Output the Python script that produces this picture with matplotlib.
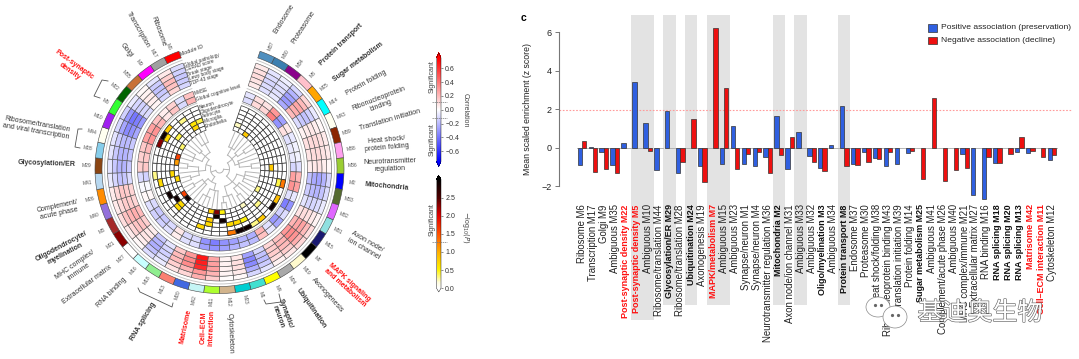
import numpy as np
import matplotlib
matplotlib.use('Agg')
import matplotlib.pyplot as plt
from matplotlib.colors import LinearSegmentedColormap, Normalize
from matplotlib.patches import Ellipse, Rectangle
from matplotlib.colorbar import ColorbarBase
import matplotlib.patheffects as pe

plt.rcParams['font.family'] = ['Liberation Sans', 'Noto Sans CJK SC', 'DejaVu Sans']

W, H = 1079, 359
# ---------- circular panel data (clockwise from the gap) ----------
modules = ['M37','M30','M34','M8','M25','M14','M43','M39','M38','M36','M2','M33','M32','M31','M15','M7','M19','M24','M4','M1','M23','M12',
           'M11','M42','M20','M13','M18','M16','M27','M21','M3','M40','M26','M41','M29','M28','M44','M10','M5','M22','M35','M9','M17','M6']
module_colors = ['#4f8fbf','#3b7fb0','#8b008b','#ffc0cb','#ffa500','#00ffff','#fffff0','#8b2500','#ffa0ee','#9acd32','#0000ff','#556b2f','#e066ff','#8fe0e0','#191970','#000000','#fffacd','#a9a9a9','#ffff00','#40e0d0','#00ced1','#d2b48c',
                 '#adff2f','#c5f5f5','#4169e1','#fa8072','#90ee90','#c8ffff','#ffffff','#8b0000','#a52a2a','#9370db','#ff8c00','#b8d8f0','#8b4513','#87ceeb','#fffff0','#a020f0','#33ff33','#006400','#c87137','#ff00ff','#a0a0a0','#ff0000']
trait_rows = [
 [.06,.09,.10,.08,.06],[-.08,-.10,-.12,-.10,-.09],[-.05,-.08,-.10,-.09,-.07],[-.12,-.22,-.28,-.30,-.25],[.12,.20,.26,.24,.20],
 [-.06,-.14,-.18,-.16,-.10],[.02,.05,.07,.06,.04],[.06,.09,.11,.11,.09],[.06,.08,.11,.10,.08],[.02,.05,.08,.07,.05],
 [-.12,-.22,-.27,-.25,-.18],[-.10,-.18,-.22,-.20,-.15],[-.06,-.10,-.12,-.12,-.08],[.03,.06,.09,.10,.08],[.10,.20,.27,.26,.22],
 [.12,.24,.32,.34,.30],[.07,.15,.20,.22,.18],[.04,.10,.15,.15,.12],[-.08,-.15,-.20,-.18,-.12],[-.12,-.24,-.34,-.36,-.28],
 [.02,.06,.09,.09,.07],[.01,.03,.04,.04,.03],[.15,.22,.28,.28,.26],[.24,.30,.62,.66,.68],[.12,.22,.34,.34,.30],
 [.08,.14,.20,.20,.16],[-.06,-.10,-.14,-.12,-.08],[-.10,-.18,-.24,-.22,-.16],[.02,.05,.08,.07,.05],[.06,.12,.17,.18,.14],
 [.10,.18,.22,.24,.20],[.06,.11,.15,.15,.12],[.06,.12,.16,.15,.12],[-.06,-.12,-.18,-.16,-.10],[-.08,-.16,-.22,-.22,-.16],
 [-.08,-.16,-.22,-.22,-.18],[-.08,-.15,-.20,-.20,-.16],[-.12,-.26,-.34,-.32,-.26],[-.14,-.30,-.40,-.38,-.30],[-.06,-.12,-.14,-.12,-.10],
 [.02,.04,.06,.05,.03],[-.08,-.15,-.18,-.16,-.12],[.06,.14,.20,.18,.12],[-.10,-.14,-.16,-.15,-.12]]
cognition_rows = [
 [-.08,-.10],[.09,.11],[.08,.12],[.30,.38],[-.28,-.32],[.06,.09],[-.07,-.09],[-.04,-.06],[-.04,-.06],[-.09,-.12],
 [.22,.28],[.28,.32],[-.07,-.09],[-.32,-.38],[-.10,-.14],[-.26,-.30],[-.07,-.09],[.18,.22],[-.20,-.24],[-.18,-.22],
 [-.22,-.28],[-.28,-.32],[-.32,-.38],[-.28,-.32],[-.09,-.11],[-.09,-.11],[.05,.07],[-.09,-.11],[-.14,-.16],[-.14,-.16],
 [-.09,-.11],[.02,.02],[-.02,-.02],[-.11,-.13],[.14,.16],[.14,.16],[.16,.20],[.28,.32],[.28,.32],[.18,.22],[.05,.07],[.13,.17],[-.09,-.11],[.18,.22]]
# (module index, row 0=neuron ... 5=endothelia, -log10 P)
celltype_hits = [(39,0,.8),(38,0,2.9),(37,0,2.3),(38,1,.7),(39,3,.4),(38,5,.35),(36,5,1.6),(35,5,1.1),(41,1,.3),(42,3,.6),(43,3,.4),(42,4,.7),
                 (0,4,.2),(2,5,.8),(9,3,.8),(11,0,1.3),(11,1,.4),(13,5,.3),(13,0,.9),(14,0,2.9),(15,3,.3),(17,5,.2),(16,0,.8),(17,0,.3),
                 (18,0,2.9),(19,0,2.9),(20,0,1.3),(20,2,.7),(19,2,.7),(18,2,.5),(21,3,2.9),(21,5,.5),(22,4,2.9),(22,5,2.3),(23,5,.8),(23,3,.8),(23,2,.7),
                 (24,1,.7),(28,2,.7),(30,2,2.9),(29,3,2.9),(29,5,1.6),(28,5,2.9),(28,3,.7),(32,1,.7),(33,4,.7),(32,5,.7),(33,0,.3)]
dendro = (4,[(10,[(16,[(24,[0,1,2]),(22,[3,(30,[4,5])]),(20,[6,7,(32,[8,9])])]),(18,[(26,[10,11,12,13]),(24,[14,15,(32,[16,17])]),(28,[18,19,(34,[20,21])])])]),
             (9,[(15,[(22,[22,23,(30,[24,25,26])]),(20,[27,28,(30,[29,30])])]),(14,[(21,[(30,[31,32]),33,(32,[34,35])]),(19,[(28,[36,37,38]),(25,[39,40]),(29,[41,42,43])])])])])
track_names = ['Global pathology','CERAD score','Braak stage','Lewy body stage','TDP-43 stage']
cog_names = ['MMSE','Global cognitive level']
cell_names = ['Neuron','Oligodendrocyte','Astrocyte','Microglia','Endothelia']

# ---------- bar panel data ----------
bar_labels = ['Ribosome M6','Transcription M17','Golgi M9','Ambiguous M35','Post-synaptic density M22','Post-synaptic density M5','Ambiguous M10','Ribosome/translation M44','Glycosylation/ER M29','Ribosome/translation M28','Ubiquitination M24','Axonogenesis M19','MAPK/metabolism M7','Ambiguous M15','Ambiguous M23','Synapse/neuron M1','Synapse/neuron M4','Neurotransmitter regulation M36','Mitochondria M2','Axon node/ion channel M31','Ambiguous M33','Ambiguous M32','Oligo/myelination M3','Ambiguous M34','Protein transport M8','Endosome M37','Proteasome M30','Heat shock/folding M38','Ribonucleoprotein binding M43','Translation initiation M39','Protein folding M14','Sugar metabolism M25','Ambiguous M41','Complement/acute phase M26','Ambiguous M40','MHC complex/immune M21','Extracellular matrix M27','RNA binding M16','RNA splicing M18','RNA splicing M20','RNA splicing M13','Matrisome M42','Cell–ECM interaction M11','Cytoskeleton M12']
positive = [-.9,.02,-.2,-.92,.27,3.4,1.27,-1.15,1.92,-1.3,0,-.95,0,-.87,1.15,-.87,-.97,-.48,1.63,-1.1,.8,-.43,-1.07,.12,2.17,-.83,-.23,-.55,-.95,-.87,-.3,0,0,0,0,-.33,-2.47,-2.67,-.8,0,-.2,-.25,0,-.62]
negative = [.33,-1.25,-1.1,-1.32,0,0,-.17,0,0,-.73,1.47,-1.8,6.2,3.12,-1.12,-.32,-.22,-1.32,-.4,.58,0,-.72,-1.22,0,-.95,-.92,-.72,-.57,-.22,0,-.17,-1.6,2.57,-1.73,-1.15,-1.08,0,-.47,-.78,-.33,.55,-.17,-.5,-.37]
red_bold = {4,5,12,41,42}
black_bold = {8,10,18,22,24,31,38,39,40}
shaded_groups = [[5,6],[8],[10],[12,13],[18],[20],[24]]
long_shade = {5,6}

fig = plt.figure(figsize=(W/100, H/100), dpi=100)
fig.patch.set_facecolor('white')
def px_axes(x0, y0, x1, y1, **kw):
    return fig.add_axes([x0/W, 1-y1/H, (x1-x0)/W, (y1-y0)/H], **kw)

# ---------- circular heatmap ----------
cx, cy, rmax = 219.5, 169, 126
pol = px_axes(cx-rmax, cy-rmax, cx+rmax, cy+rmax, projection='polar')
pol.set_theta_zero_location('N'); pol.set_theta_direction(-1)
pol.set_rlim(0, rmax); pol.axis('off')
gap = 19.0; step = (360-2*gap)/len(modules)
th = lambda i: np.radians(gap + step*(i+.5))
wd = np.radians(step)
corr_cmap = LinearSegmentedColormap.from_list('c', ['#0000ff','#ffffff','#ff0000'])
corr_norm = Normalize(-.75, .75)
p_cmap = LinearSegmentedColormap.from_list('p', [(0,'#ffffff'),(.05,'#fffde0'),(.17,'#fff200'),(.33,'#ffb000'),(.5,'#ff5000'),(.67,'#e00000'),(.83,'#500000'),(1,'#000000')])
p_norm = Normalize(0, 3)

pol.bar([th(i) for i in range(44)], [7]*44, width=wd, bottom=117.5, color=module_colors, edgecolor='#444444', linewidth=.4)
r1_out, r1_h = 112, 4.8
r2_out, r2_h = 82, 5.5
r3_out, r3_h = 67, 4.33
for i in range(44):
    for k, v in enumerate(trait_rows[i]):
        pol.bar(th(i), r1_h, width=wd, bottom=r1_out-(k+1)*r1_h, color=corr_cmap(corr_norm(v)), edgecolor='#555555', linewidth=.42)
    for k, v in enumerate(cognition_rows[i]):
        pol.bar(th(i), r2_h, width=wd, bottom=r2_out-(k+1)*r2_h, color=corr_cmap(corr_norm(v)), edgecolor='#555555', linewidth=.42)
    for k in range(6):
        pol.bar(th(i), r3_h, width=wd, bottom=r3_out-(k+1)*r3_h, color='white', edgecolor='#333333', linewidth=.5)
for i, k, v in celltype_hits:
    pol.bar(th(i), r3_h, width=wd, bottom=r3_out-(k+1)*r3_h, color=p_cmap(p_norm(v)), edgecolor='#333333', linewidth=.5, zorder=3)
arc_t = np.radians(np.linspace(gap, 360-gap, 200))
for r in (115, 85, 69.5):
    pol.plot(arc_t, [r]*200, color='#c8c8c8', lw=.7)

def draw(node):
    if isinstance(node, int):
        return th(node), 41.0
    r, kids = node
    pos = [draw(k) for k in kids]
    ts = [p[0] for p in pos]
    arc = np.linspace(min(ts), max(ts), 30)
    pol.plot(arc, [r]*30, color='#b5b5b5', lw=.7)
    for t, rc in pos:
        pol.plot([t, t], [r, rc], color='#b5b5b5', lw=.7)
    return (min(ts)+max(ts))/2, r
draw(dendro)

# ---------- overlay for annotation text ----------
ov = fig.add_axes([0, 0, 1, 1], facecolor='none', zorder=5)
ov.set_xlim(0, W); ov.set_ylim(H, 0); ov.axis('off')
def polar_xy(deg, r):
    a = np.radians(deg); return cx + r*np.sin(a), cy - r*np.cos(a)
for i, m in enumerate(modules):
    deg = gap + step*(i+.5)
    x_, y_ = polar_xy(deg, 133)
    rot = 90-deg if deg < 180 else 270-deg
    ov.text(x_, y_, m, fontsize=3.6, color='#555555', rotation=rot, rotation_mode='anchor', ha='center', va='center')
labels = [
 ('Ribosome',158,31,-70,'k',0),('Transcription',138,30,-60,'k',0),('Golgi',126,50,-52,'k',0),
 ('Post-synaptic\ndensity',72,68,-36,'r',1),('Ribosome/translation\nand viral transcription',37,128,-10,'k',0),
 ('Glycosylation/ER',47,164,-2,'k',1),('Complement/\nacute phase',58,210,12,'k',0),('Oligodendrocyte/\nmyelination',63,250,28,'k',1),
 ('MHC complex/\nimmune',77,268,35,'k',0),('Extracellular matrix',87,285,37,'k',0),('RNA binding',111,293,45,'k',0),
 ('RNA splicing',143,322,59,'k',1),('Matrisome',186,327,78,'r',1),('Cell–ECM\ninteraction',208,328,88,'r',1),('Cytoskeleton',230,333,-88,'k',0),
 ('Synaptic/\nneuron',282,315,-70,'k',1),('Ubiquitination',311,308,-55,'k',1),('Axonogenesis',327,295,-48,'k',0),
 ('MAPK signaling\nand metabolism',347,285,-42,'r',1),('Axon node/\nion channel',365,245,-30,'k',0),('Mitochondria',387,186,-5,'k',1),
 ('Neurotransmitter\nregulation',390,165,2,'k',0),('Heat shock/\nprotein folding',387,144,5,'k',0),('Translation initiation',390,120,16,'k',0),
 ('Ribonucleoprotein\nbinding',380,102,21,'k',0),('Protein folding',366,83,29,'k',0),('Sugar metabolism',358,62,37,'k',1),
 ('Protein transport',341,45,44,'k',1),('Proteasome',303,27,57,'k',0),('Endosome',284,19,58,'k',0)]
for t, x_, y_, rot, c, b in labels:
    ov.text(x_, y_, t, fontsize=5.0, rotation=rot, rotation_mode='anchor', ha='center', va='center', linespacing=1.15,
            color={'k':'#333333','r':'#ff1010'}[c], fontweight='bold' if b else 'normal')
brackets = [[(108,81),(102,80),(94,96),(100,98)],[(82,129),(78,129),(75,147),(80,148)],
            [(138,288),(140,292),(172,307),(173,303)],[(264,300),(266,304),(281,302),(279,294)]]
for br in brackets:
    ov.plot(*zip(*br), color='#555555', lw=.6)
ov.text(*polar_xy(341, 121), 'Module ID', fontsize=3.8, rotation=20, ha='left', va='center', color='#333333', rotation_mode='anchor')
for k, t in enumerate(track_names):
    ov.text(*polar_xy(341.3, 109.6-k*4.8), t, fontsize=3.4, rotation=17, ha='left', va='center', color='#333333', rotation_mode='anchor')
for k, t in enumerate(cog_names):
    ov.text(*polar_xy(341.3, 79.2-k*5.5), t, fontsize=3.4, rotation=17, ha='left', va='center', color='#333333', rotation_mode='anchor')
for k, t in enumerate(cell_names):
    ov.text(*polar_xy(341.3, 64.8-k*5), t, fontsize=3.4, rotation=17, ha='left', va='center', color='#333333', rotation_mode='anchor')

# ---------- colour bars ----------
cb1 = px_axes(436.5, 52.7, 441, 166.7)
c1 = ColorbarBase(cb1, cmap=corr_cmap, norm=corr_norm, extend='both', extendfrac=.05, ticks=[-.6,-.4,-.2,0,.2,.4,.6], drawedges=False)
cb2 = px_axes(436.5, 175.6, 441, 292)
pc = p_cmap.copy(); pc.set_over('#000000'); pc.set_under('#ffffff')
c2 = ColorbarBase(cb2, cmap=pc, norm=p_norm, extend='both', extendfrac=.035, ticks=[0,.5,1,1.5,2,2.5])
for c in (c1, c2):
    c.ax.tick_params(labelsize=5, length=1.5, width=.4, pad=1.5, colors='#333333')
    c.outline.set_linewidth(.3)
for y_, t in ((77,'Significant'),(140,'Significant'),(220,'Significant')):
    ov.text(432, y_, t, fontsize=5, rotation=90, ha='center', va='center', color='#444444')
ov.text(465, 110, 'Correlation', fontsize=5, rotation=270, ha='center', va='center', color='#444444')
ov.text(465, 227, r'$-\mathregular{log}_{10}(P)$', fontsize=5, rotation=270, ha='center', va='center', color='#444444')
for y_ in (101.7, 117.7, 242):
    ov.plot([432, 447], [y_, y_], color='#777777', lw=.5, ls=(0, (2, 1)))

# ---------- bar chart ----------
y0px, upx = 147.7, 19.25
x0px, gpx = 582.0, 10.93
ax = px_axes(559, 15, 1072, 186.2)
ax.set_xlim((559-x0px)/gpx, (1072-x0px)/gpx)
ax.set_ylim((y0px-186.2)/upx, (y0px-15)/upx)
for s in ('top','right','bottom'):
    ax.spines[s].set_visible(False)
ax.spines['left'].set_bounds(-2, 6); ax.spines['left'].set_color('#777777'); ax.spines['left'].set_linewidth(.8)
ax.patch.set_alpha(0)
x = np.arange(len(bar_labels))
ymax = (y0px-15)/upx
for g in shaded_groups:
    bot = (y0px-(320 if g[0] in long_shade else 305))/upx
    ax.add_patch(Rectangle((g[0]-.56, bot), len(g)-1+1.12, ymax-bot, facecolor='#e3e3e3', edgecolor='none', clip_on=False, zorder=0))
for xi in x:
    ax.plot([xi-.45, xi+.45], [0, 0], color='#aaaaaa', lw=.6, zorder=1)
pos_idx = [i for i in x if positive[i] != 0]
neg_idx = [i for i in x if negative[i] != 0]
ax.bar(x[pos_idx]-.2, np.array(positive)[pos_idx], width=.4, color='#2f5fe0', edgecolor='#333333', linewidth=.5, zorder=2, clip_on=False)
ax.bar(x[neg_idx]+.2, np.array(negative)[neg_idx], width=.4, color='#ee1010', edgecolor='#333333', linewidth=.5, zorder=2, clip_on=False)
ax.axhline(1.96, color='#ff9a9a', lw=.8, ls=(0, (1.5, 1.5)), zorder=1)
ax.set_yticks([-2,0,2,4,6])
ax.tick_params(axis='y', labelsize=6.5, length=3, width=.7, color='#777777', pad=2, labelcolor='#222222')
ax.set_ylabel('Mean scaled enrichment (z score)', fontsize=6.3, color='#222222')
ax.yaxis.set_label_coords((532-559)/513, (186.2-109)/171.2)
ax.set_xticks(x)
ax.set_xticklabels(bar_labels, rotation=90, fontsize=6.9, ha='center', va='top')
ax.tick_params(axis='x', length=0, pad=13)
for i, t in enumerate(ax.get_xticklabels()):
    if i in red_bold:
        t.set_color('#ff1010'); t.set_fontweight('bold'); t.set_fontsize(6.5)
    elif i in black_bold:
        t.set_color('#111111'); t.set_fontweight('bold'); t.set_fontsize(6.5)
    else:
        t.set_color('#222222')
ov.text(521, 18, 'c', fontsize=7.5, fontweight='bold', ha='left', va='center')
for yy, col, t in ((27.8,'#2f5fe0','Positive association (preservation)'),(40.6,'#ee1010','Negative association (decline)')):
    ov.add_patch(Rectangle((928, yy-3.8), 8.5, 7.6, facecolor=col, edgecolor='#333333', lw=.5))
    ov.text(941, yy, t, fontsize=6.1, ha='left', va='center', color='#222222')

# ---------- watermark ----------
for ex, ey, erx, ery in ((878,307,12,10),(895,317,12,11)):
    ov.add_patch(Ellipse((ex,ey), 2*erx, 2*ery, facecolor='white', edgecolor='#888888', lw=.5, zorder=6))
    ov.plot([ex-3, ex+3], [ey-2, ey-2], ls='none', marker='o', ms=1.3, color='#666666', zorder=7)
ov.text(980, 313, '基迪奥生物', fontsize=18, family=['Noto Sans CJK SC'], ha='center', va='center', color='white', zorder=8,
        path_effects=[pe.withStroke(linewidth=.9, foreground='#666666')])
fig.savefig('out.png', dpi=100)
